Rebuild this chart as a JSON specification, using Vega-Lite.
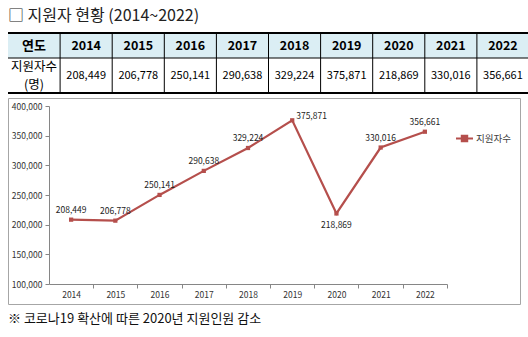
{
  "$schema": "https://vega.github.io/schema/vega-lite/v6.json",
  "padding": {"left": 7, "top": 8, "right": 0, "bottom": 0},
  "background": "white",
  "config": {"view": {"stroke": null}, "font": "Noto Sans CJK KR"},
  "datasets": {
    "main": [
      {"year": 2014, "applicants": 208449},
      {"year": 2015, "applicants": 206778},
      {"year": 2016, "applicants": 250141},
      {"year": 2017, "applicants": 290638},
      {"year": 2018, "applicants": 329224},
      {"year": 2019, "applicants": 375871},
      {"year": 2020, "applicants": 218869},
      {"year": 2021, "applicants": 330016},
      {"year": 2022, "applicants": 356661}
    ]
  },
  "title": {"text": "□ 지원자 현황 (2014~2022)", "anchor": "start", "frame": "group", "font": "Noto Sans CJK KR", "fontSize": 16, "fontWeight": "normal", "color": "#222222", "offset": 8},
  "spacing": 3,
  "bounds": "full",
  "vconcat": [
    {
      "spacing": 0,
      "bounds": "flush",
      "vconcat": [
        {
          "width": 521,
          "height": 25,
          "view": {"fill": "#dbeef4", "stroke": null},
          "data": {"name": "main"},
          "layer": [
            {
              "mark": {"type": "rule", "color": "black", "strokeWidth": 1},
              "encoding": {
                "x": {"field": "year", "type": "ordinal", "bandPosition": 0, "scale": {"domain": ["연도", 2014, 2015, 2016, 2017, 2018, 2019, 2020, 2021, 2022], "paddingInner": 0, "paddingOuter": 0}, "axis": null}
              }
            },
            {
              "mark": {"type": "text", "fontSize": 12.5, "fontWeight": "bold", "color": "black"},
              "encoding": {
                "x": {"field": "year", "type": "ordinal", "axis": null},
                "text": {"field": "year", "type": "ordinal"}
              }
            },
            {
              "data": {"values": [{}]},
              "mark": {"type": "text", "fontSize": 13, "fontWeight": "bold", "color": "black"},
              "encoding": {
                "x": {"datum": "연도", "type": "ordinal"},
                "text": {"value": "연도"}
              }
            },
            {
              "data": {"values": [{}]},
              "mark": {"type": "rule", "color": "black", "strokeWidth": 2},
              "encoding": {
                "y": {"datum": 1, "type": "quantitative", "scale": {"domain": [0, 1]}, "axis": null}
              }
            },
            {
              "data": {"values": [{}]},
              "mark": {"type": "rule", "color": "black", "strokeWidth": 1},
              "encoding": {
                "y": {"datum": 0, "type": "quantitative"}
              }
            }
          ]
        },
        {
          "width": 521,
          "height": 35,
          "data": {"name": "main"},
          "layer": [
            {
              "mark": {"type": "rule", "color": "black", "strokeWidth": 1},
              "encoding": {
                "x": {"field": "year", "type": "ordinal", "bandPosition": 0, "scale": {"domain": ["연도", 2014, 2015, 2016, 2017, 2018, 2019, 2020, 2021, 2022], "paddingInner": 0, "paddingOuter": 0}, "axis": null}
              }
            },
            {
              "mark": {"type": "text", "fontSize": 11, "color": "black"},
              "encoding": {
                "x": {"field": "year", "type": "ordinal", "axis": null},
                "text": {"field": "applicants", "type": "quantitative", "format": ","}
              }
            },
            {
              "data": {"values": [{}]},
              "mark": {"type": "text", "fontSize": 12.5, "color": "black", "lineBreak": "\n", "lineHeight": 18, "dy": -9},
              "encoding": {
                "x": {"datum": "연도", "type": "ordinal"},
                "text": {"value": "지원자수\n(명)"}
              }
            },
            {
              "data": {"values": [{}]},
              "mark": {"type": "rule", "color": "black", "strokeWidth": 2},
              "encoding": {
                "y": {"datum": 0, "type": "quantitative", "scale": {"domain": [0, 1]}, "axis": null}
              }
            }
          ]
        }
      ]
    },
    {
      "width": 512,
      "height": 206,
      "view": {"stroke": "#a6a6a6", "strokeWidth": 1},
      "title": {"text": "※ 코로나19 확산에 따른 2020년 지원인원 감소", "orient": "bottom", "anchor": "start", "fontSize": 13, "fontWeight": "normal", "color": "#111111", "offset": 9},
      "data": {"name": "main"},
      "encoding": {
        "x": {"field": "year", "type": "quantitative", "scale": {"domain": [2013.5, 2022.5], "range": [41, 439], "nice": false, "zero": false}, "axis": {"values": [2014, 2015, 2016, 2017, 2018, 2019, 2020, 2021, 2022], "format": "d", "labelExpr": "format(datum.value, 'd')", "orient": "bottom", "offset": -20, "domain": true, "domainColor": "#868686", "grid": false, "tickOffset": 22, "labelOffset": -22, "tickSize": 4, "tickColor": "#868686", "labelFontSize": 8.5, "labelColor": "#333333", "labelPadding": 2, "title": null}},
        "y": {"field": "applicants", "type": "quantitative", "scale": {"domain": [100000, 400000], "range": [186, 8], "nice": false, "zero": false}, "axis": {"values": [100000, 150000, 200000, 250000, 300000, 350000, 400000], "format": ",", "labelExpr": "format(datum.value, ',')", "orient": "left", "offset": -41, "domain": true, "domainColor": "#868686", "grid": false, "tickSize": 4, "tickColor": "#868686", "labelFontSize": 8.5, "labelColor": "#333333", "labelPadding": 3, "title": null}}
      },
      "layer": [
        {
          "mark": {"type": "line", "strokeWidth": 2.2, "color": "#b54f4c", "point": {"shape": "square", "size": 18, "filled": true, "color": "#b54f4c"}},
          "encoding": {
            "color": {"datum": "지원자수", "type": "nominal", "scale": {"range": ["#b54f4c"]}, "legend": {"orient": "none", "legendX": 447, "legendY": 96, "title": null, "labelFontSize": 9.5, "labelColor": "#404040", "symbolType": "M-1,0H1M-0.32,-0.32H0.32V0.32H-0.32Z", "symbolSize": 289, "symbolStrokeWidth": 2, "symbolFillColor": "#b54f4c", "symbolStrokeColor": "#b54f4c", "labelOffset": 2}}
          }
        },
        {
          "transform": [{"filter": "datum.year != 2019 && datum.year != 2020"}],
          "mark": {"type": "text", "fontSize": 8.5, "color": "#222222", "dy": -10},
          "encoding": {
            "text": {"field": "applicants", "type": "quantitative", "format": ","}
          }
        },
        {
          "transform": [{"filter": "datum.year == 2019"}],
          "mark": {"type": "text", "fontSize": 8.5, "color": "#222222", "align": "left", "dx": 4, "dy": -4},
          "encoding": {
            "text": {"field": "applicants", "type": "quantitative", "format": ","}
          }
        },
        {
          "transform": [{"filter": "datum.year == 2020"}],
          "mark": {"type": "text", "fontSize": 8.5, "color": "#222222", "dy": 12},
          "encoding": {
            "text": {"field": "applicants", "type": "quantitative", "format": ","}
          }
        }
      ]
    }
  ]
}
